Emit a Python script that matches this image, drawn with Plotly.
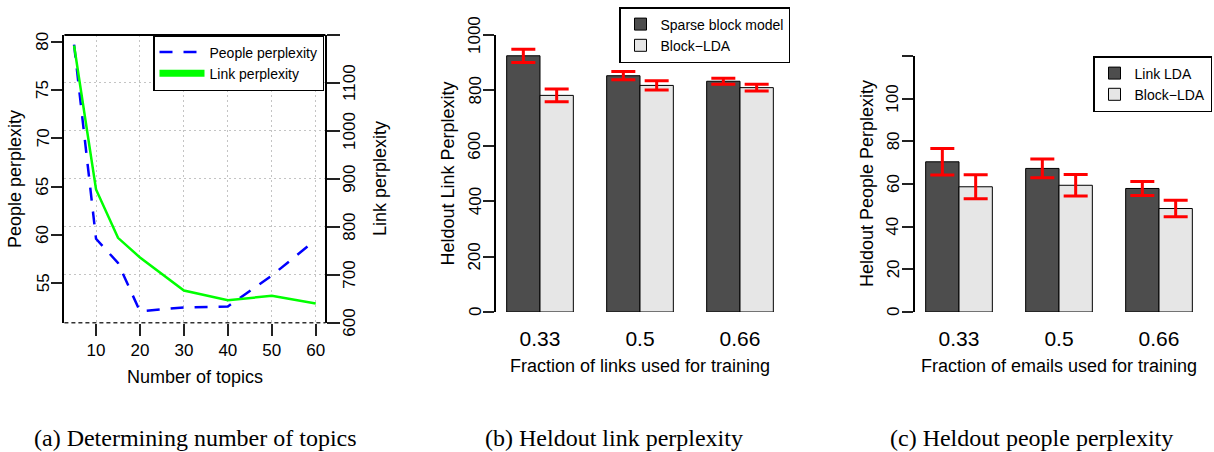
import plotly.graph_objects as go

W, H = 1214, 452

# (a) perplexity as a function of the number of topics
topics = [5, 10, 15, 20, 30, 40, 50, 60]
people_perplexity = [79.7, 59.6, 57.1, 52.1, 52.5, 52.6, 55.8, 59.5]
link_perplexity = [1178, 878, 777, 736, 667, 647, 656, 640]
topic_ticks = [10, 20, 30, 40, 50, 60]
people_ticks = [55, 60, 65, 70, 75, 80]
link_ticks = [600, 700, 800, 900, 1000, 1100]

# (b) heldout link perplexity
fractions = ["0.33", "0.5", "0.66"]
sparse_block = [925, 853, 833]
sparse_block_err = [24, 15, 11]
block_lda_link = [782, 818, 810]
block_lda_link_err = [23, 17, 12]
heldout_link_ticks = [0, 200, 400, 600, 800, 1000]

# (c) heldout people perplexity
link_lda = [70.4, 67.3, 57.9]
link_lda_err = [6.2, 4.4, 3.3]
block_lda_people = [58.7, 59.4, 48.5]
block_lda_people_err = [5.6, 5.0, 3.9]
heldout_people_ticks = [0, 20, 40, 60, 80, 100]

DARK = "#4D4D4D"
LIGHT = "#E6E6E6"
SANS = "Liberation Sans, Arial, sans-serif"
SERIF = "Liberation Serif, Times New Roman, serif"
GRID = "#C4C4C4"
GRID_DASH = "2px,3px"


def fx(px):
    return px / W


def fy(py):
    return 1 - py / H


fig = go.Figure()

# ---- panel (a) ----
fig.add_trace(go.Scatter(
    x=topics, y=people_perplexity, xaxis="x", yaxis="y", mode="lines",
    line=dict(color="#0000FF", width=2.5, dash="13px,11px"),
    name="People perplexity", legend="legend"))
fig.add_trace(go.Scatter(
    x=topics, y=link_perplexity, xaxis="x", yaxis="y2", mode="lines",
    line=dict(color="#00FF00", width=2.5), showlegend=False))
# legend key with the wider line used in the key box
fig.add_trace(go.Scatter(
    x=[None], y=[None], xaxis="x", yaxis="y2", mode="lines",
    line=dict(color="#00FF00", width=7),
    name="Link perplexity", legend="legend"))

# ---- panel (b) ----
err = dict(type="data", color="#FF0000", thickness=3, width=12)
fig.add_trace(go.Bar(
    x=fractions, y=sparse_block, xaxis="x2", yaxis="y3",
    name="Sparse block model", legend="legend2",
    marker=dict(color=DARK, line=dict(color="black", width=1)),
    error_y=dict(array=sparse_block_err, **err)))
fig.add_trace(go.Bar(
    x=fractions, y=block_lda_link, xaxis="x2", yaxis="y3",
    name="Block\u2212LDA", legend="legend2",
    marker=dict(color=LIGHT, line=dict(color="black", width=1)),
    error_y=dict(array=block_lda_link_err, **err)))

# ---- panel (c) ----
fig.add_trace(go.Bar(
    x=fractions, y=link_lda, xaxis="x3", yaxis="y4",
    name="Link LDA", legend="legend3",
    marker=dict(color=DARK, line=dict(color="black", width=1)),
    error_y=dict(array=link_lda_err, **err)))
fig.add_trace(go.Bar(
    x=fractions, y=block_lda_people, xaxis="x3", yaxis="y4",
    name="Block\u2212LDA", legend="legend3",
    marker=dict(color=LIGHT, line=dict(color="black", width=1)),
    error_y=dict(array=block_lda_people_err, **err)))

yax = dict(zeroline=False, linecolor="black", tickcolor="#222", tickwidth=2,
           linewidth=2, showline=True, showgrid=False, ticks="outside",
           showticklabels=False, automargin=False)

layout = dict(
    template="none",
    width=W, height=H, autosize=False, margin=dict(l=0, r=0, t=0, b=0, pad=0),
    paper_bgcolor="white", plot_bgcolor="rgba(0,0,0,0)",
    font=dict(family=SANS, color="black", size=17),
    barmode="group", bargap=1 / 3, bargroupgap=0,
    xaxis=dict(domain=[fx(64.4), fx(325.4)], range=[2.8, 62.2], anchor="y",
               tickvals=topic_ticks, ticks="outside", ticklen=12, tickwidth=2,
               tickcolor="#222", showline=False, showgrid=True, gridcolor=GRID,
               griddash=GRID_DASH, gridwidth=1, zeroline=False,
               tickfont=dict(size=17), automargin=False),
    yaxis=dict(domain=[fy(322.7), fy(35)], range=[50.92, 80.69], anchor="x",
               tickvals=people_ticks, ticklen=11, **yax),
    yaxis2=dict(overlaying="y", side="right", anchor="x", range=[600, 1200],
                tickvals=link_ticks + [1200], ticklen=13,
                **{**yax, "showgrid": True, "gridcolor": GRID,
                   "griddash": GRID_DASH, "gridwidth": 1}),
    xaxis2=dict(domain=[fx(496), fx(784)], anchor="y3", range=[-0.44, 2.44],
                type="category", showline=False, ticks="", showgrid=False,
                zeroline=False, tickfont=dict(size=21), ticklabelstandoff=12,
                automargin=False),
    yaxis3=dict(domain=[fy(312), fy(35)], anchor="x2", range=[0, 1000],
                tickvals=heldout_link_ticks, ticklen=11, **yax),
    xaxis3=dict(domain=[fx(915), fx(1203)], anchor="y4", range=[-0.44, 2.44],
                type="category", showline=False, ticks="", showgrid=False,
                zeroline=False, tickfont=dict(size=21), ticklabelstandoff=12,
                automargin=False),
    yaxis4=dict(domain=[fy(312), fy(56)], anchor="x3", range=[0, 120],
                tickvals=heldout_people_ticks + [120], ticklen=11, **yax),
)

legend_common = dict(bgcolor="white", bordercolor="black", borderwidth=1.5,
                     font=dict(size=14, family=SANS), xanchor="left",
                     yanchor="top", tracegroupgap=0)
layout["legend"] = dict(x=fx(153), y=fy(35), itemwidth=45, **legend_common)
layout["legend2"] = dict(x=fx(619), y=fy(7), **legend_common)
layout["legend3"] = dict(x=fx(1093), y=fy(56), **legend_common)

# box edges of panel (a): solid top, dashed bottom
layout["shapes"] = [
    dict(type="line", xref="x domain", yref="y domain", x0=0, x1=1, y0=1, y1=1,
         line=dict(color="black", width=2)),
    dict(type="line", xref="x domain", yref="y domain", x0=0, x1=1, y0=0, y1=0,
         line=dict(color="#333", width=1.5, dash="4px,3px")),
]


def label(text, px, py, size=18, angle=0, family=SANS, yref="paper"):
    y = fy(py) if yref == "paper" else py
    return dict(text=text, x=fx(px), y=y, xref="paper", yref=yref,
                showarrow=False, xanchor="center", yanchor="middle",
                textangle=angle, font=dict(size=size, family=family, color="black"))


annotations = [
    label("Number of topics", 194.7, 377),
    label("People perplexity", 15, 179, angle=-90),
    label("Link perplexity", 380, 179, angle=-90),
    label("Heldout Link Perplexity", 447, 173.5, angle=-90),
    label("Fraction of links used for training", 640, 366),
    label("Heldout People Perplexity", 867, 184, angle=-90),
    label("Fraction of emails used for training", 1059, 366),
    label("(a) Determining number of topics", 195, 438, size=24, family=SERIF),
    label("(b) Heldout link perplexity", 614.5, 438, size=24, family=SERIF),
    label("(c) Heldout people perplexity", 1031.5, 438, size=24, family=SERIF),
]

# rotated tick labels placed on each value axis
for v in people_ticks:
    annotations.append(label(str(v), 43, v, size=17, angle=-90, yref="y"))
for v in link_ticks:
    annotations.append(label(str(v), 350, v, size=17, angle=-90, yref="y2"))
for v in heldout_link_ticks:
    annotations.append(label(str(v), 475, v, size=17, angle=-90, yref="y3"))
for v in heldout_people_ticks:
    annotations.append(label(str(v), 893, v, size=17, angle=-90, yref="y4"))
layout["annotations"] = annotations

fig.update_layout(**layout)
fig.write_html("out.html")
